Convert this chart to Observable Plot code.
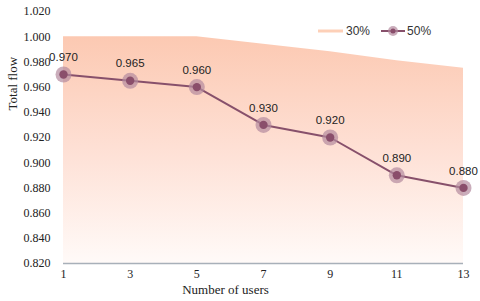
<!DOCTYPE html>
<html>
<head>
<meta charset="utf-8">
<script src="https://cdn.jsdelivr.net/npm/d3@7"></script>
<script src="https://cdn.jsdelivr.net/npm/@observablehq/plot@0.6"></script>
<style>
  html, body { margin: 0; padding: 0; background: #fff; }
  #wrap { position: relative; width: 480px; height: 301px; }
  #legend { position: absolute; top: 24px; left: 316px; font: 12px "Liberation Sans", Arial, sans-serif; color: #333; display: flex; align-items: center; }
  #legend svg { display: block; }
</style>
</head>
<body>
<div id="wrap">
  <div id="chart"></div>
  <div id="legend"></div>
</div>
<script>
const users = [1, 3, 5, 7, 9, 11, 13];
const flow30 = [1.000, 1.000, 1.000, 0.994, 0.988, 0.981, 0.975];
const flow50 = [0.970, 0.965, 0.960, 0.930, 0.920, 0.890, 0.880];
const yTicks = [0.82, 0.84, 0.86, 0.88, 0.90, 0.92, 0.94, 0.96, 0.98, 1.00, 1.02];
const seriesNames = ["30%", "50%"];

const data = users.map((u, i) => ({u, a: flow30[i], b: flow50[i]}));
const serif = "Liberation Serif";
const sans = "Liberation Sans";
const lineColor = "#87506b";

const defs = () => {
  const d = d3.create("svg:defs");
  const g = d.append("linearGradient").attr("id", "grad30")
    .attr("x1", 0).attr("y1", 0).attr("x2", 0).attr("y2", 1);
  g.append("stop").attr("offset", "0%").attr("stop-color", "#fcc9b2");
  g.append("stop").attr("offset", "50%").attr("stop-color", "#fee0d5");
  g.append("stop").attr("offset", "100%").attr("stop-color", "#fffaf8");
  return d.node();
};

const chart = Plot.plot({
  width: 480,
  height: 301,
  marginLeft: 63,
  marginRight: 17,
  marginTop: 11,
  marginBottom: 38,
  style: {fontFamily: serif, fontSize: "12px", color: "#222", background: "white"},
  x: {domain: [1, 13], label: null},
  y: {domain: [0.82, 1.02], label: null},
  marks: [
    defs,
    Plot.areaY(data, {x: "u", y1: 0.82, y2: "a", fill: "url(#grad30)"}),
    Plot.ruleY([0.82], {stroke: "#a8b0b9", strokeWidth: 1.5}),
    Plot.axisX({ticks: users, tickSize: 0, tickPadding: 6, label: null, fontFamily: serif, fontSize: 12, fill: "#222"}),
    Plot.axisY({ticks: yTicks, tickFormat: d3.format(".3f"), tickSize: 0, tickPadding: 13, label: null, fontFamily: serif, fontSize: 12, fill: "#222"}),
    Plot.line(data, {x: "u", y: "b", stroke: lineColor, strokeWidth: 2}),
    Plot.dot(data, {x: "u", y: "b", r: 8, fill: "#b48a9e", fillOpacity: 0.7, stroke: "none"}),
    Plot.dot(data, {x: "u", y: "b", r: 4.2, fill: "#8a4e6b", stroke: "none"}),
    Plot.text(data, {x: "u", y: "b", text: d => d3.format(".3f")(d.b), dy: -17, fontFamily: sans, fontSize: 11.5, fill: "#222"}),
    Plot.text(["Total flow"], {frameAnchor: "left", dx: -51, dy: -27, rotate: -90, fontFamily: serif, fontSize: 13, fill: "#222"}),
    Plot.text(["Number of users"], {frameAnchor: "bottom", dx: -38, dy: 30.5, fontFamily: serif, fontSize: 13, fill: "#222"})
  ]
});
document.getElementById("chart").appendChild(chart);

// legend
const leg = d3.select("#legend");
const s1 = leg.append("svg").attr("width", 28).attr("height", 14);
s1.append("line").attr("x1", 2).attr("x2", 27).attr("y1", 7).attr("y2", 7).attr("stroke", "#fdd0b8").attr("stroke-width", 3);
leg.append("span").text(seriesNames[0]).style("margin", "0 10px 0 2px");
const s2 = leg.append("svg").attr("width", 26).attr("height", 14);
s2.append("line").attr("x1", 1).attr("x2", 25).attr("y1", 7).attr("y2", 7).attr("stroke", lineColor).attr("stroke-width", 2);
s2.append("circle").attr("cx", 13).attr("cy", 7).attr("r", 5).attr("fill", "#b48a9e").attr("fill-opacity", 0.7);
s2.append("circle").attr("cx", 13).attr("cy", 7).attr("r", 2.5).attr("fill", "#8a4e6b");
leg.append("span").text(seriesNames[1]).style("margin-left", "1px");
</script>
</body>
</html>
